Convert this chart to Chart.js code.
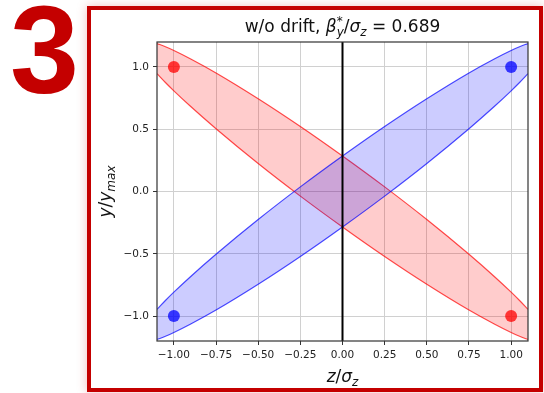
<!DOCTYPE html>
<html>
<head>
<meta charset="utf-8">
<script src="https://cdn.jsdelivr.net/npm/chart.js@4.4.1/dist/chart.umd.min.js"></script>
<style>
  html, body { margin: 0; padding: 0; background: #fff; }
  #page { position: relative; width: 544px; height: 393px; overflow: hidden; }
  #num {
    position: absolute; left: 10px; top: -12px;
    font: bold 124px/124px "Liberation Sans", Arial, sans-serif;
    color: #c40000;
  }
  #box {
    position: absolute; left: 87px; top: 6px; width: 456px; height: 386px;
    box-sizing: border-box; border: 4px solid #c40000; background: #fff;
    box-shadow: 0 0 10px rgba(200, 0, 0, 0.25);
  }
  #c { position: absolute; left: 0; top: 0; }
</style>
</head>
<body>
<div id="page">
  <div id="num">3</div>
  <div id="box"></div>
  <canvas id="c" width="544" height="393"></canvas>
</div>
<script>
// ---- data ----
const xTicks = [-1.0, -0.75, -0.5, -0.25, 0, 0.25, 0.5, 0.75, 1.0];
const yTicks = [-1.0, -0.5, 0, 0.5, 1.0];

// ellipse edges, sampled at these z values
const zEdge = [-1.1, -1.05, -1.0, -0.9, -0.75, -0.5, -0.25, 0, 0.25, 0.5, 0.75, 0.9, 1.0, 1.05, 1.1];
const blueUpper = [-0.946, -0.875, -0.808, -0.682, -0.504, -0.225, 0.037, 0.285, 0.522, 0.745, 0.952, 1.064, 1.132, 1.162, 1.188];
const blueLower = [-1.188, -1.162, -1.132, -1.064, -0.952, -0.745, -0.522, -0.285, -0.037, 0.225, 0.504, 0.682, 0.808, 0.875, 0.946];
const redUpper = [1.188, 1.162, 1.132, 1.064, 0.952, 0.745, 0.522, 0.285, 0.037, -0.225, -0.504, -0.682, -0.808, -0.875, -0.946];
const redLower = [0.946, 0.875, 0.808, 0.682, 0.504, 0.225, -0.037, -0.285, -0.522, -0.745, -0.952, -1.064, -1.132, -1.162, -1.188];

const redDots = [{ x: -1, y: 1 }, { x: 1, y: -1 }];
const blueDots = [{ x: 1, y: 1 }, { x: -1, y: -1 }];
const zeroLine = [{ x: 0, y: -1.2 }, { x: 0, y: 1.2 }];

const FONT = '"DejaVu Sans", Verdana, sans-serif';

function pts(ys) {
  return zEdge.map((z, i) => ({ x: z, y: ys[i] }));
}

function edge(data, color, fill, bg, order) {
  return {
    data: data,
    borderColor: color,
    borderWidth: 1.2,
    backgroundColor: bg,
    fill: fill,
    pointRadius: 0,
    cubicInterpolationMode: "monotone",
    order: order,
  };
}

function fmt(dec) {
  return (v) => (v < 0 ? "\u2212" : "") + Math.abs(v).toFixed(dec);
}

// mixed-size text (mathtext look-alike)
function drawRich(ctx, parts, cx, cy, angle) {
  ctx.save();
  ctx.translate(cx, cy);
  ctx.rotate(angle || 0);
  ctx.fillStyle = "#111";
  ctx.textBaseline = "alphabetic";
  ctx.textAlign = "left";
  const fontOf = (p) => (p.i ? "italic " : "") + (p.s || 17) + "px " + FONT;
  let total = 0;
  parts.forEach((p) => {
    ctx.font = fontOf(p);
    p.w = p.adv !== undefined ? p.adv : ctx.measureText(p.t).width;
    total += p.w;
  });
  let x = -total / 2;
  parts.forEach((p) => {
    ctx.font = fontOf(p);
    ctx.fillText(p.t, x, p.dy || 0);
    x += p.w;
  });
  ctx.restore();
}

const textPlugin = {
  id: "texts",
  afterDatasetsDraw(chart) {
    const ctx = chart.ctx;
    const a = chart.chartArea;
    // frame
    ctx.save();
    ctx.strokeStyle = "#333";
    ctx.lineWidth = 1.2;
    ctx.strokeRect(a.left, a.top, a.right - a.left, a.bottom - a.top);
    ctx.restore();

    const mid = (a.left + a.right) / 2;
    drawRich(ctx, [
      { t: "w/o drift, " },
      { t: "\u03b2", i: true },
      { t: "*", s: 12, dy: -7, adv: 0 },
      { t: "y", s: 12, i: true, dy: 4 },
      { t: "/" },
      { t: "\u03c3", i: true },
      { t: "z", s: 12, i: true, dy: 4 },
      { t: " = " },
      { t: "0.689" },
    ], mid, 31.5);

    drawRich(ctx, [
      { t: "z", i: true },
      { t: "/" },
      { t: "\u03c3", i: true },
      { t: "z", s: 12, i: true, dy: 4 },
    ], mid, 381.5);

    drawRich(ctx, [
      { t: "y", i: true },
      { t: "/" },
      { t: "y", i: true },
      { t: "max", s: 12, i: true, dy: 4 },
    ], 111, (a.top + a.bottom) / 2, -Math.PI / 2);
  },
};

const axisCommon = {
  type: "linear",
  border: { display: false },
  grid: { color: "#d0d0d0", lineWidth: 1, tickColor: "#333", tickLength: 4 },
};

new Chart(document.getElementById("c"), {
  type: "line",
  data: {
    datasets: [
      {
        data: redDots, showLine: false, pointRadius: 6, pointBorderWidth: 0,
        pointBackgroundColor: "rgba(255,0,0,0.75)", order: 0,
      },
      {
        data: blueDots, showLine: false, pointRadius: 6, pointBorderWidth: 0,
        pointBackgroundColor: "rgba(0,0,255,0.75)", order: 0,
      },
      { data: zeroLine, borderColor: "#000", borderWidth: 2, pointRadius: 0, order: 1 },
      edge(pts(blueUpper), "rgba(0,0,255,0.7)", false, "transparent", 2),
      edge(pts(blueLower), "rgba(0,0,255,0.7)", "-1", "rgba(0,0,255,0.2)", 2),
      edge(pts(redUpper), "rgba(255,0,0,0.7)", false, "transparent", 3),
      edge(pts(redLower), "rgba(255,0,0,0.7)", "-1", "rgba(255,0,0,0.2)", 3),
    ],
  },
  options: {
    responsive: false,
    animation: false,
    devicePixelRatio: 1,
    events: [],
    layout: { padding: { top: 42, right: 16, left: 0, bottom: 0 } },
    plugins: { legend: { display: false }, tooltip: { enabled: false }, title: { display: false } },
    scales: {
      x: {
        ...axisCommon,
        min: -1.1,
        max: 1.1,
        afterBuildTicks: (s) => { s.ticks = xTicks.map((v) => ({ value: v })); },
        afterFit: (s) => { s.height = 52; },
        ticks: {
          callback: fmt(2), color: "#222", padding: 4, maxRotation: 0, autoSkip: false,
          font: { family: FONT, size: 10.5 },
        },
      },
      y: {
        ...axisCommon,
        min: -1.2,
        max: 1.2,
        afterBuildTicks: (s) => { s.ticks = yTicks.map((v) => ({ value: v })); },
        afterFit: (s) => { s.width = 157; },
        ticks: {
          callback: fmt(1), color: "#222", padding: 4, autoSkip: false,
          font: { family: FONT, size: 10.5 },
        },
      },
    },
  },
  plugins: [textPlugin],
});
</script>
</body>
</html>
